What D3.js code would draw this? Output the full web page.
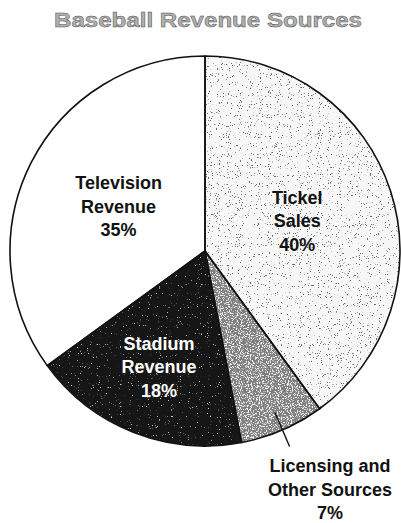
<!DOCTYPE html>
<html>
<head>
<meta charset="utf-8">
<script src="https://cdn.jsdelivr.net/npm/d3@7/dist/d3.min.js"></script>
<style>
  html, body { margin: 0; padding: 0; background: #fff; }
  svg { display: block; font-family: "Liberation Sans", Arial, Helvetica, sans-serif; }
</style>
</head>
<body>
<svg id="chart" width="401" height="523"></svg>
<script>
// Revenue shares, clockwise from twelve o'clock
const categories = ["Tickel Sales", "Licensing and Other Sources", "Stadium Revenue", "Television Revenue"];
const shares = [40, 7, 18, 35];
const labelLines = [
  ["Tickel", "Sales", "40%"],
  ["Licensing and", "Other Sources", "7%"],
  ["Stadium", "Revenue", "18%"],
  ["Television", "Revenue", "35%"]
];
const chartTitle = "Baseball Revenue Sources";

const W = 401, H = 523;
const cx = 205, cy = 251, R = 195;

const svg = d3.select("#chart");
const defs = svg.append("defs");

// Stipple texture: thresholded noise dots laid over the flat fill
function speckle(id, dotColor, freq, slope, offset) {
  const f = defs.append("filter").attr("id", id)
    .attr("x", 0).attr("y", 0).attr("width", 1).attr("height", 1)
    .attr("color-interpolation-filters", "sRGB");
  f.append("feTurbulence").attr("type", "fractalNoise")
    .attr("baseFrequency", freq).attr("numOctaves", 2).attr("seed", 3).attr("result", "noise");
  f.append("feColorMatrix").attr("in", "noise").attr("type", "matrix")
    .attr("values", `0 0 0 0 0  0 0 0 0 0  0 0 0 0 0  ${slope} 0 0 0 ${offset}`)
    .attr("result", "mask");
  f.append("feFlood").attr("flood-color", dotColor).attr("result", "ink");
  f.append("feComposite").attr("in", "ink").attr("in2", "mask").attr("operator", "in").attr("result", "dots");
  f.append("feComposite").attr("in", "dots").attr("in2", "SourceGraphic").attr("operator", "in").attr("result", "clipped");
  const m = f.append("feMerge");
  m.append("feMergeNode").attr("in", "SourceGraphic");
  m.append("feMergeNode").attr("in", "clipped");
}
speckle("stipLight", "#666", 0.9, 14, -9.3);
speckle("stipMid", "#f2f2f2", 0.9, 9, -4.6);
speckle("stipDark", "#c8c8c8", 0.9, 10, -6.9);

const fills = ["#f7f7f7", "#7e7e7e", "#161616", "#ffffff"];
const filters = ["url(#stipLight)", "url(#stipMid)", "url(#stipDark)", null];
const textFill = ["#111", "#111", "#fff", "#111"];

// Title
svg.append("text")
  .attr("x", 208).attr("y", 27)
  .attr("text-anchor", "middle")
  .attr("font-size", 20).attr("font-weight", "bold")
  .attr("fill", "#b0b0b0").attr("stroke", "#4a4a4a").attr("stroke-width", 0.45)
  .attr("textLength", 308).attr("lengthAdjust", "spacingAndGlyphs")
  .text(chartTitle);

const pie = d3.pie().sort(null).value(d => d)(shares);
const arc = d3.arc().innerRadius(0).outerRadius(R);

const g = svg.append("g").attr("transform", `translate(${cx},${cy})`);

g.selectAll("path.slice")
  .data(pie)
  .join("path")
  .attr("class", "slice")
  .attr("d", arc)
  .attr("fill", (d, i) => fills[i])
  .attr("filter", (d, i) => filters[i]);

// Outlines drawn on top so the texture does not eat them
g.selectAll("path.edge")
  .data(pie)
  .join("path")
  .attr("class", "edge")
  .attr("d", arc)
  .attr("fill", "none")
  .attr("stroke", "#111")
  .attr("stroke-width", 1.6)
  .attr("stroke-linejoin", "round");

// Label anchor radius per slice (the thin slice is labelled outside)
const labelRadius = [97, null, 125, 97];
const lineGap = 23.5;

pie.forEach((d, i) => {
  const mid = (d.startAngle + d.endAngle) / 2;
  const lines = labelLines[i];
  let x, yTop;
  if (labelRadius[i] !== null) {
    const r = labelRadius[i];
    x = Math.sin(mid) * r;
    const yc = -Math.cos(mid) * r;
    yTop = yc - lineGap + 6;
  } else {
    // leader line along the slice's middle ray, label below the pie
    const r0 = 176, r1 = 213;
    g.append("line")
      .attr("x1", Math.sin(mid) * r0).attr("y1", -Math.cos(mid) * r0)
      .attr("x2", Math.sin(mid) * r1).attr("y2", -Math.cos(mid) * r1)
      .attr("stroke", "#111").attr("stroke-width", 1.4);
    x = 330 - cx;
    yTop = 472 - cy;
  }
  const t = g.append("text")
    .attr("text-anchor", "middle")
    .attr("font-size", 18).attr("font-weight", "bold")
    .attr("fill", textFill[i]);
  lines.forEach((s, k) => {
    t.append("tspan").attr("x", x).attr("y", yTop + k * lineGap).text(s);
  });
});
</script>
</body>
</html>
